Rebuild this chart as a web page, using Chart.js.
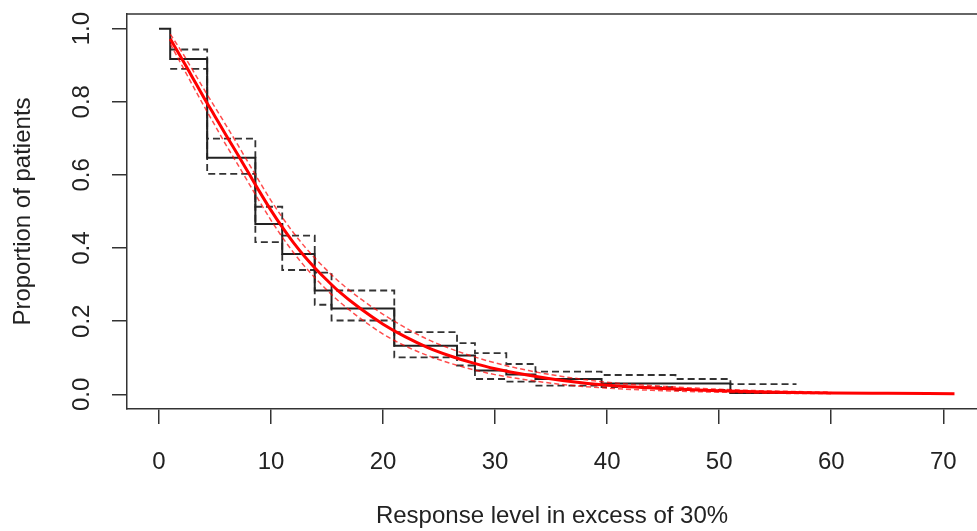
<!DOCTYPE html>
<html>
<head>
<meta charset="utf-8">
<title>Proportion of patients by response level</title>
<script src="https://cdn.jsdelivr.net/npm/chart.js@4.4.1/dist/chart.umd.min.js"></script>
<style>
  html, body { margin: 0; padding: 0; background: #fff; }
  canvas { display: block; }
</style>
</head>
<body>
<canvas id="survival-chart" width="977" height="531"></canvas>
<script>
// Step estimate (black) and its confidence limits
const stepX    = [0, 1.0, 4.3, 8.6, 11.0, 13.9, 15.4, 21.0, 26.6, 28.2, 31.0, 33.6, 39.5, 51.0, 57.0];
const stepSurv = [1.0, 0.917, 0.647, 0.466, 0.384, 0.284, 0.235, 0.133, 0.106, 0.065, 0.054, 0.042, 0.030, 0.004, 0.004];
const ciX      = [1.0, 4.3, 8.6, 11.0, 13.9, 15.4, 21.0, 26.6, 28.2, 31.0, 33.6, 39.5, 46.1, 51.0, 56.9];
const ciUpper  = [0.943, 0.699, 0.513, 0.434, 0.333, 0.284, 0.170, 0.140, 0.113, 0.083, 0.062, 0.053, 0.042, 0.028, 0.028];
const ciLower  = [0.890, 0.603, 0.416, 0.340, 0.245, 0.202, 0.101, 0.079, 0.042, 0.035, 0.024, 0.020, 0.012, 0.004, 0.004];

// Fitted curve (red) and its band
const fitX    = [1, 2, 3, 4, 5, 6, 7, 8, 9, 10, 11, 12, 13, 14, 15, 16, 18, 20, 22, 24, 26, 28, 30, 33, 36, 40, 45, 50, 55, 60, 65, 71];
const fitSurv = [0.972, 0.92, 0.866, 0.812, 0.76, 0.708, 0.657, 0.605, 0.553, 0.503, 0.457, 0.415, 0.377, 0.343, 0.312, 0.283, 0.234, 0.192, 0.157, 0.128, 0.105, 0.086, 0.07, 0.052, 0.038, 0.025, 0.016, 0.01, 0.006, 0.004, 0.003, 0.002];
const bandX    = [1, 2, 3, 4, 5, 6, 7, 8, 9, 10, 11, 12, 13, 14, 15, 16, 18, 20, 22, 24, 26, 28, 30, 33, 36, 40, 45, 50, 55, 60];
const fitUpper = [0.985, 0.938, 0.887, 0.835, 0.785, 0.735, 0.684, 0.632, 0.58, 0.53, 0.484, 0.442, 0.404, 0.37, 0.339, 0.31, 0.261, 0.219, 0.182, 0.15, 0.125, 0.104, 0.086, 0.065, 0.049, 0.033, 0.022, 0.014, 0.009, 0.006];
const fitLower = [0.959, 0.902, 0.845, 0.789, 0.735, 0.681, 0.63, 0.578, 0.526, 0.476, 0.43, 0.388, 0.35, 0.316, 0.285, 0.256, 0.207, 0.165, 0.132, 0.106, 0.085, 0.068, 0.054, 0.039, 0.027, 0.017, 0.010, 0.006, 0.003, 0.002];

// Axis ticks
const xTicks = [0, 10, 20, 30, 40, 50, 60, 70];
const yTicks = [0, 0.2, 0.4, 0.6, 0.8, 1.0];

const pts = (xs, ys) => xs.map((x, i) => ({ x: x, y: ys[i] }));

const axisFont = { family: "'Liberation Sans', Arial, sans-serif", size: 24 };
const ink = '#222';

// top edge of the box (R style frame)
const frameTop = {
    id: 'frameTop',
    afterDraw(chart) {
        const { ctx, chartArea } = chart;
        ctx.save();
        ctx.strokeStyle = '#333';
        ctx.lineWidth = 1.5;
        ctx.beginPath();
        ctx.moveTo(chartArea.left, chartArea.top);
        ctx.lineTo(chartArea.right, chartArea.top);
        ctx.stroke();
        ctx.restore();
    }
};

let ctx = document.getElementById('survival-chart').getContext('2d');
let survivalChart = new Chart(ctx, {
    type: 'line',
    data: {
        datasets: [
            {
                label: 'Fitted',
                data: pts(fitX, fitSurv),
                borderColor: '#ff0000',
                borderWidth: 3,
                cubicInterpolationMode: 'monotone'
            },
            {
                label: 'Fitted upper',
                data: pts(bandX, fitUpper),
                borderColor: 'rgba(255,0,0,0.7)',
                borderWidth: 1.5,
                borderDash: [5, 3],
                cubicInterpolationMode: 'monotone'
            },
            {
                label: 'Fitted lower',
                data: pts(bandX, fitLower),
                borderColor: 'rgba(255,0,0,0.7)',
                borderWidth: 1.5,
                borderDash: [5, 3],
                cubicInterpolationMode: 'monotone'
            },
            {
                label: 'Observed',
                data: pts(stepX, stepSurv),
                borderColor: ink,
                borderWidth: 2,
                stepped: 'before'
            },
            {
                label: 'Observed upper',
                data: pts(ciX, ciUpper),
                borderColor: '#333',
                borderWidth: 1.8,
                borderDash: [7, 4],
                stepped: 'before'
            },
            {
                label: 'Observed lower',
                data: pts(ciX, ciLower),
                borderColor: '#333',
                borderWidth: 1.8,
                borderDash: [7, 4],
                stepped: 'before'
            }
        ]
    },
    options: {
        responsive: false,
        animation: false,
        devicePixelRatio: 1,
        layout: { padding: { top: 14, right: 0, left: 0, bottom: 0 } },
        elements: { point: { radius: 0 }, line: { fill: false } },
        plugins: { legend: { display: false }, tooltip: { enabled: false } },
        scales: {
            x: {
                type: 'linear',
                min: -2.856,
                max: 73.01,
                afterBuildTicks: s => { s.ticks = xTicks.map(v => ({ value: v })); },
                afterFit: s => { s.height = 122; s.paddingLeft = 0; s.paddingRight = 0; },
                grid: { drawOnChartArea: false, tickLength: 15, color: '#333', lineWidth: 1.5 },
                border: { color: '#333', width: 1.5 },
                ticks: { font: axisFont, color: ink, padding: 24, maxRotation: 0, callback: v => String(v) },
                title: { display: true, text: 'Response level in excess of 30%', font: axisFont, color: ink, padding: { top: 0, bottom: 0 } }
            },
            y: {
                type: 'linear',
                min: -0.04,
                max: 1.04,
                afterBuildTicks: s => { s.ticks = yTicks.map(v => ({ value: v })); },
                afterFit: s => { s.width = 127; s.paddingTop = 0; s.paddingBottom = 0; },
                grid: { drawOnChartArea: false, tickLength: 15, color: '#333', lineWidth: 1.5 },
                border: { color: '#333', width: 1.5 },
                ticks: { font: axisFont, color: ink, padding: 13, minRotation: 90, maxRotation: 90, crossAlign: 'center', callback: v => v.toFixed(1) },
                title: { display: true, text: 'Proportion of patients', font: axisFont, color: ink, padding: { top: 9, bottom: 0 } }
            }
        }
    },
    plugins: [frameTop]
});
</script>
</body>
</html>
